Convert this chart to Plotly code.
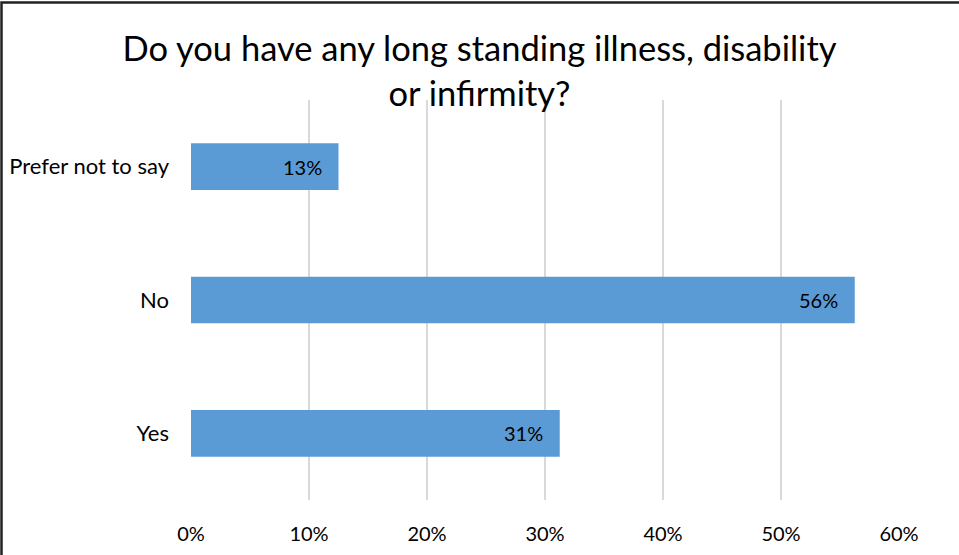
import plotly.graph_objects as go

categories = ["Yes", "No", "Prefer not to say"]
values = [31.25, 56.25, 12.5]
labels = ["31%", "56%", "13%"]
x_ticks = [0, 10, 20, 30, 40, 50, 60]
x_tick_labels = ["0%", "10%", "20%", "30%", "40%", "50%", "60%"]

W, H = 959, 555
L, R, T, B = 191, 60, 100, 55
FONT = "Lato, Open Sans, sans-serif"

fig = go.Figure(go.Bar(
    x=values, y=categories, orientation="h",
    marker=dict(color="#5b9bd5", line=dict(width=0)),
    width=0.35,
    hoverinfo="x+y",
))

for v, c, t in zip(values, categories, labels):
    fig.add_annotation(x=v, y=c, xref="x", yref="y", text=t, showarrow=False,
                       xanchor="right", yanchor="middle", xshift=-15,
                       font=dict(size=20, color="#000000", family=FONT))

pw = W - L - R
ph = H - T - B
fig.add_shape(type="rect", xref="paper", yref="paper",
              x0=-(L - 1.5) / pw, x1=1 + (R + 5) / pw,
              y0=-(B + 5) / ph, y1=1 + (T - 2.5) / ph,
              line=dict(color="#222222", width=2.5), layer="above")

fig.update_layout(
    width=W, height=H,
    margin=dict(l=L, r=R, t=T, b=B, autoexpand=False),
    paper_bgcolor="white", plot_bgcolor="white",
    title=dict(text="Do you have any long standing illness, disability<br>or infirmity?",
               x=0.5, xref="container", xanchor="center",
               y=1 - 61 / H, yref="container", yanchor="top",
               font=dict(size=34.5, color="#000000", family=FONT)),
    font=dict(family=FONT, color="#000000", size=20),
    showlegend=False,
)
fig.update_xaxes(range=[0, 60], tickvals=x_ticks, ticktext=x_tick_labels,
                 showgrid=True, gridcolor="#d9d9d9", gridwidth=2,
                 zeroline=False, showline=False, ticks="",
                 ticklabelstandoff=20, automargin=False,
                 tickfont=dict(size=20, color="#000000", family=FONT))
fig.update_yaxes(categoryorder="array", categoryarray=categories,
                 showgrid=False, zeroline=False, showline=False, ticks="",
                 ticklabelstandoff=21, automargin=False,
                 tickfont=dict(size=22, color="#000000", family=FONT))

fig.write_html("out.html",
               config={"displayModeBar": False},
               post_script="document.body.style.margin='0px';document.body.style.overflow='hidden';")
